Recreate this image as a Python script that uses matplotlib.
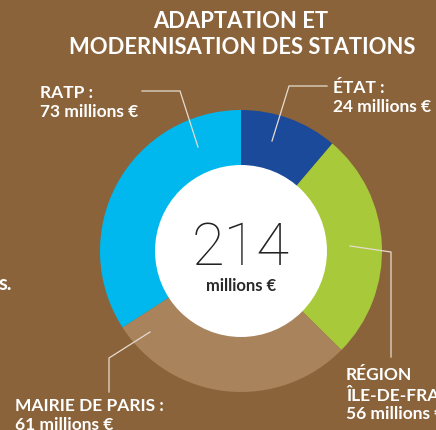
import matplotlib
matplotlib.use("Agg")
import matplotlib.pyplot as plt
from matplotlib.patches import Circle

# ---- data ----
categories = ["ÉTAT", "RÉGION ÎLE-DE-FRANCE", "MAIRIE DE PARIS", "RATP"]
values = [24, 56, 61, 73]
colors = ["#1B4A9B", "#A8CA3A", "#A8835B", "#00B8EE"]
total_label = "214"
unit_label = "millions €"
title_lines = ["ADAPTATION ET", "MODERNISATION DES STATIONS"]

BG = "#8B633A"
W, H = 436, 430

fig = plt.figure(figsize=(W / 100, H / 100), dpi=100, facecolor=BG)
ax = fig.add_axes([0, 0, 1, 1])
ax.set_facecolor(BG)

def Y(y):
    return H - y

cx, cy = 241, Y(251)
R, r_in = 141, 86

ax.pie(values, colors=colors, center=(cx, cy), radius=R, startangle=90,
       counterclock=False, wedgeprops=dict(width=R - r_in + 2, linewidth=0))
ax.add_patch(Circle((cx, cy), r_in, facecolor="white", edgecolor="none", zorder=3))
ax.set_xlim(0, W)
ax.set_ylim(0, H)
ax.set_aspect("equal")
ax.axis("off")

FONT = ["Lato", "DejaVu Sans"]
# title
ax.text(241, Y(28), title_lines[0], ha="center", va="baseline", color="white",
        fontsize=15.8, fontweight="bold", family=FONT)
ax.text(242, Y(54), title_lines[1], ha="center", va="baseline", color="white",
        fontsize=15.8, fontweight="bold", family=FONT)

# centre
ax.text(cx, Y(265), total_label, ha="center", va="baseline", color="#222222",
        fontsize=43, fontweight="light", family=["Roboto", "DejaVu Sans"], zorder=4)
ax.text(cx, Y(291), unit_label, ha="center", va="baseline", color="#2a2a2a",
        fontsize=12, fontweight="bold", family=FONT, zorder=4)

lab = dict(va="baseline", color="white", fontsize=12.5, fontweight="bold", family=FONT)
# labels
ax.text(333, Y(93), "ÉTAT :", **lab)
ax.text(333, Y(112), f"{values[0]} millions €", **lab)
ax.text(40, Y(98), "RATP :", **lab)
ax.text(40, Y(117), f"{values[3]} millions €", **lab)
ax.text(346, Y(380), "RÉGION", **lab)
ax.text(346, Y(401), "ÎLE-DE-FRANCE :", **lab)
ax.text(346, Y(419), f"{values[1]} millions €", **lab)
ax.text(15, Y(411), "MAIRIE DE PARIS :", **lab)
ax.text(15, Y(430), f"{values[2]} millions €", **lab)
ax.text(-1, Y(290), "s.", va="baseline", color="white", fontsize=14.5,
        fontweight="bold", family=FONT)

# leader lines
lc = dict(color="#E6DCCF", lw=0.9, zorder=5)
ax.plot([272, 289, 327], [Y(141), Y(86), Y(86)], **lc)
ax.plot([142, 180, 198], [Y(91), Y(91), Y(147)], **lc)
ax.plot([350, 391, 391], [Y(246), Y(252), Y(357)], **lc)
ax.plot([150, 109, 109], [Y(332), Y(358), Y(392)], **lc)

fig.savefig("out.png", dpi=100, facecolor=BG)
